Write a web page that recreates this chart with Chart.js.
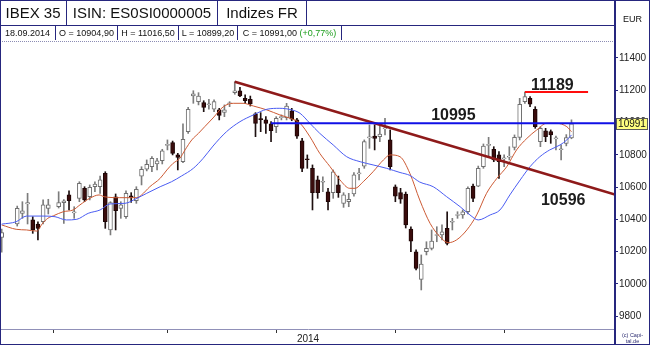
<!DOCTYPE html>
<html>
<head>
<meta charset="utf-8">
<title>IBEX 35</title>
<script src="https://cdn.jsdelivr.net/npm/chart.js@4.4.1/dist/chart.umd.min.js"></script>
<style>
  html, body { margin: 0; padding: 0; background: #fff; }
  #frame { position: relative; width: 650px; height: 345px; overflow: hidden; background: #fff;
           font-family: "Liberation Sans", Arial, sans-serif; color: #111; }
  #chart { position: absolute; left: 0; top: 0; }
  .cell { position: absolute; box-sizing: border-box; white-space: nowrap; text-align: center;
          border-right: 1px solid #26267e; }
  .r1 { top: 1px; height: 24px; line-height: 24px; font-size: 15px; }
  .r2 { top: 26px; height: 14px; line-height: 14px; font-size: 9px; }
  .rule { position: absolute; }
  .gain { color: #1c9e1c; }
  #border { position: absolute; left: 0; top: 0; width: 650px; height: 345px; box-sizing: border-box;
            border: 1px solid #26267e; pointer-events: none; }
</style>
</head>
<body>
<div id="frame">
  <canvas id="chart" width="650" height="345"></canvas>
  <div class="cell r1" style="left:0;width:67px">IBEX 35</div>
  <div class="cell r1" style="left:67px;width:151px">ISIN: ES0SI0000005</div>
  <div class="cell r1" style="left:218px;width:89px">Indizes FR</div>
  <div class="rule" style="left:0;top:25px;width:615px;height:1px;background:#26267e"></div>
  <div class="cell r2" id="hDate" style="left:0;width:56px"></div>
  <div class="cell r2" id="hOpen" style="left:56px;width:62px"></div>
  <div class="cell r2" id="hHigh" style="left:118px;width:61px"></div>
  <div class="cell r2" id="hLow" style="left:179px;width:59px"></div>
  <div class="cell r2" id="hClose" style="left:238px;width:104px"></div>
  <div class="rule" style="left:0;top:41px;width:615px;height:0;border-top:1px dotted #8c8cb4"></div>
  <div class="rule" style="left:614px;top:0;width:2px;height:345px;background:#26267e"></div>
  <div class="rule" style="left:616px;top:14px;width:33px;text-align:center;font-size:9px;line-height:11px">EUR</div>
  <div class="rule" style="left:616px;top:332px;width:33px;text-align:center;font-size:5.5px;line-height:6px;color:#2a2a70">(c) Capi-<br>tal.de</div>
  <div id="border"></div>
</div>
<script>
// Daily IBEX 35 candles, one slot per weekday (index 0 = 17.04.2014, last = 18.09.2014).
// Exchange holidays (Good Friday, Easter Monday, 1 May) stay empty.
const lastDate = '18.09.2014';

const open = [
  10288, null, null, 10371, 10437, 10495, 10396, 10371, 10385, 10468,
  null, 10478, 10503, 10551, 10440, 10530, 10592, 10540, 10602, 10602,
  10685, 10334, 10540, 10468, 10416, 10545, 10515, 10668, 10710, 10726,
  10743, 10763, 10858, 10875, 10799, 10757, 10943, 11164, 11129, 11123,
  11110, 11082, 11078, 11063, 11116, 11185, 11197, 11150, 11144, 11053,
  11024, 11016, 10991, 10974, 11030, 11030, 11073, 11016, 10887, 10775,
  10716, 10644, 10630, 10571, 10565, 10613, 10499, 10509, 10557, 10682,
  10730, 10905, 10916, 10912, 10961, 10892, 10602, 10565, 10557, 10340,
  10199, 10028, 10199, 10220, 10300, 10303, 10344, 10382, 10424, 10427,
  10447, 10606, 10606, 10726, 10858, 10834, 10799, 10775, 10785, 10846,
  10908, 11129, 11150, 11082, 10881, 10949, 10943, 10899, 10831, 10870, 10904.90
];
const high = [
  10340, null, null, 10482, 10509, 10561, 10416, 10385, 10520, 10524,
  null, 10571, 10522, 10577, 10478, 10633, 10602, 10613, 10633, 10668,
  10695, 10509, 10557, 10509, 10577, 10565, 10602, 10726, 10768, 10788,
  10778, 10834, 10892, 10885, 10809, 10991, 11094, 11197, 11185, 11135,
  11144, 11140, 11088, 11109, 11129, 11253, 11218, 11171, 11164, 11061,
  11061, 11036, 11005, 11036, 11047, 11119, 11088, 11026, 10902, 10799,
  10737, 10668, 10664, 10592, 10706, 10668, 10565, 10561, 10689, 10716,
  10892, 10985, 10985, 10978, 11026, 10954, 10613, 10592, 10569, 10354,
  10210, 10179, 10261, 10334, 10354, 10365, 10447, 10406, 10447, 10458,
  10602, 10619, 10730, 10867, 10908, 10850, 10819, 10799, 10850, 10923,
  11150, 11189, 11160, 11098, 10974, 10964, 10954, 10916, 10861, 10925, 11016.50
];
const low = [
  10197, null, null, 10358, 10406, 10371, 10313, 10272, 10371, 10433,
  null, 10470, 10375, 10458, 10406, 10509, 10509, 10520, 10571, 10561,
  10344, 10303, 10334, 10406, 10406, 10505, 10499, 10613, 10700, 10695,
  10706, 10743, 10830, 10799, 10706, 10751, 10933, 11119, 11109, 11067,
  11082, 11067, 11016, 11036, 11098, 11175, 11160, 11119, 11102, 10912,
  10943, 10933, 10881, 10937, 11016, 11016, 11011, 10902, 10695, 10716,
  10458, 10530, 10571, 10458, 10530, 10536, 10474, 10478, 10544, 10644,
  10716, 10840, 10830, 10881, 10923, 10706, 10509, 10499, 10346, 10199,
  10086, 9962, 10179, 10210, 10261, 10272, 10241, 10334, 10406, 10406,
  10433, 10509, 10602, 10716, 10788, 10757, 10654, 10726, 10768, 10830,
  10892, 11119, 11098, 10964, 10850, 10881, 10871, 10830, 10768, 10855, 10899.20
];
const close = [
  10317, null, null, 10468, 10453, 10503, 10334, 10344, 10489, 10489,
  null, 10503, 10515, 10515, 10446, 10623, 10520, 10598, 10619, 10644,
  10385, 10503, 10453, 10489, 10561, 10535, 10586, 10710, 10741, 10778,
  10763, 10825, 10864, 10809, 10784, 10896, 11082, 11177, 11164, 11094,
  11116, 11129, 11044, 11078, 11122, 11197, 11164, 11135, 11115, 10995,
  11018, 10995, 10949, 11026, 11036, 11102, 11020, 10916, 10716, 10769,
  10565, 10565, 10636, 10509, 10695, 10565, 10551, 10524, 10675, 10688,
  10881, 10911, 10902, 10929, 10967, 10726, 10544, 10524, 10365, 10265,
  10096, 10123, 10220, 10265, 10306, 10323, 10251, 10388, 10430, 10447,
  10592, 10530, 10716, 10854, 10864, 10768, 10757, 10781, 10791, 10908,
  11113, 11160, 11113, 10974, 10964, 10912, 10923, 10905, 10837, 10907, 10991.00
];

// Moving averages (fast = red, slow = blue), sampled at slot positions
const maFastAt  = [0, 2.8, 4.8, 6.8, 7.8, 8.9, 10, 11.9, 13.8, 15.1, 17, 18.8, 19.8, 22.8, 26.1, 27, 28.6, 30.6, 31.9, 33.1,
                   34.4, 35.4, 36.7, 38, 39.2, 40.8, 42.8, 44.7, 46.6, 48.6, 51.2, 53.7, 55.7, 57.6, 59.5, 61.4, 63.4, 65.3, 67.2, 68.2,
                   69.8, 71.7, 73.7, 75, 76.9, 78.8, 80.7, 82.7, 84.6, 86.2, 87.8, 89.8, 91.7, 93.6, 95.6, 97.5, 99.4, 101.4, 103.3, 105.2,
                   107.1, 109.1, 110];
const maFastVal = [10365, 10338, 10334, 10327, 10371, 10406, 10422, 10447, 10458, 10489, 10530, 10551, 10540, 10534, 10534, 10551, 10602, 10654, 10706, 10747,
                   10778, 10830, 10892, 10933, 10974, 11028, 11098, 11119, 11119, 11102, 11078, 11047, 11026, 10995, 10912, 10809, 10726, 10644, 10592, 10592,
                   10633, 10695, 10768, 10799, 10788, 10685, 10520, 10375, 10292, 10255, 10272, 10334, 10427, 10561, 10654, 10726, 10830, 10902, 10954, 10995,
                   10995, 10974, 10943];
const maSlowAt  = [0, 2.8, 4.8, 8, 10.3, 12.5, 14.5, 16.7, 19, 20.9, 23.8, 26.1, 28, 30.6, 32.8, 34.7, 37, 38.9, 40.8, 43.4,
                   46, 48.6, 51.2, 53.7, 56, 57.6, 59.5, 61.4, 64, 66.6, 69.2, 71.7, 74.3, 76.9, 78.8, 80.7, 83.3, 85.9, 88.5, 90.4,
                   92, 94.3, 96.2, 98.1, 100.1, 102, 103.9, 105.8, 107.8, 109.1, 110];
const maSlowVal = [10370, 10385, 10420, 10420, 10416, 10396, 10400, 10437, 10458, 10495, 10499, 10530, 10561, 10602, 10633, 10668, 10716, 10778, 10854, 10943,
                   11005, 11047, 11082, 11088, 11078, 11057, 10995, 10933, 10861, 10788, 10757, 10737, 10716, 10690, 10672, 10631, 10602, 10540, 10478, 10427,
                   10396, 10427, 10458, 10551, 10644, 10726, 10788, 10830, 10861, 10892, 10923];

// Drawn levels
const resistance = 10995;           // horizontal support/resistance
const resistanceFrom = 52;
const septemberHigh = 11189;        // high of early September
const septemberHighSpan = [101, 113.2];
const trendAt  = [45, 114, 118.4];  // falling trend line from the June top
const trendVal = [11253, 10596, 10554];
const trendMark = 10596;

// Axes
const yTicks = [9800, 10000, 10200, 10400, 10600, 10800, 11000, 11200, 11400];
const monthStarts = [10, 32, 53, 76, 97];
const yearLabel = '2014';
const xRange = [-0.13, 118.4];
const yRange = [9720, 11499];
const yearAt = (xRange[0] + xRange[1]) / 2;

const last = close.length - 1;
const lastClose = close[last];

// Header line with the last session
const fmt = v => v.toFixed(2).replace('.', ',');
const pct = (close[last] / close[last - 1] - 1) * 100;
document.getElementById('hDate').textContent = lastDate;
document.getElementById('hOpen').textContent = 'O = ' + fmt(open[last]);
document.getElementById('hHigh').textContent = 'H = ' + fmt(high[last]);
document.getElementById('hLow').textContent = 'L = ' + fmt(low[last]);
document.getElementById('hClose').innerHTML = 'C = ' + fmt(close[last]) +
  ' <span class="gain">(' + (pct >= 0 ? '+' : '') + fmt(pct) + '%)</span>';

// Candle datasets
const slots = open.map((_, i) => i).filter(i => open[i] !== null);
const rising = slots.map(i => close[i] >= open[i]);
const wicks  = slots.map(i => ({ x: i, y: [low[i], high[i]] }));
const bodies = slots.map(i => ({ x: i, y: [open[i], close[i]] }));

const pts = (xs, ys) => xs.map((x, k) => ({ x, y: ys[k] }));

const FONT = '"Liberation Sans", Arial, sans-serif';
Chart.defaults.font.family = FONT;

const overlay = {
  id: 'overlay',
  afterDatasetsDraw(chart) {
    const { ctx, scales: { x, y } } = chart;
    const tags = [
      { value: resistance, at: 87.2, dy: -8 },
      { value: septemberHigh, at: 106.3, dy: -6 },
      { value: trendMark, at: 108.4, dy: 13 }
    ];
    ctx.save();
    ctx.font = 'bold 16px ' + FONT;
    ctx.fillStyle = '#1c1c1c';
    ctx.textAlign = 'center';
    ctx.textBaseline = 'middle';
    tags.forEach(t => ctx.fillText(String(t.value), x.getPixelForValue(t.at), y.getPixelForValue(t.value) + t.dy));
    ctx.restore();
  },
  afterDraw(chart) {
    const { ctx, scales: { y } } = chart;
    const py = Math.round(y.getPixelForValue(lastClose));
    ctx.save();
    ctx.fillStyle = '#ffff80';
    ctx.fillRect(616, py - 6, 32, 12);
    ctx.strokeStyle = '#5a5a5a';
    ctx.lineWidth = 1;
    ctx.strokeRect(616.5, py - 5.5, 31, 11);
    ctx.fillStyle = '#111';
    ctx.font = '10px ' + FONT;
    ctx.textAlign = 'center';
    ctx.textBaseline = 'middle';
    ctx.fillText(String(Math.round(lastClose)), 632, py + 0.5);
    ctx.restore();
  }
};

new Chart(document.getElementById('chart'), {
  type: 'bar',
  data: {
    datasets: [
      {
        label: 'wick', data: wicks, order: 6, grouped: false, barThickness: 1,
        backgroundColor: rising.map(r => r ? '#7c7c7c' : '#1e1010'),
        borderWidth: 0
      },
      {
        label: 'body', data: bodies, order: 5, grouped: false, barThickness: 4,
        backgroundColor: rising.map(r => r ? '#ffffff' : '#3a0c0c'),
        borderColor: rising.map(r => r ? '#707070' : '#1e0606'),
        borderWidth: 1, borderSkipped: false
      },
      {
        type: 'line', label: 'MA fast', data: pts(maFastAt, maFastVal), order: 4,
        borderColor: '#cc5a34', borderWidth: 1, pointRadius: 0, cubicInterpolationMode: 'monotone'
      },
      {
        type: 'line', label: 'MA slow', data: pts(maSlowAt, maSlowVal), order: 3,
        borderColor: '#4a5cf2', borderWidth: 1, pointRadius: 0, cubicInterpolationMode: 'monotone'
      },
      {
        type: 'line', label: 'trend', data: pts(trendAt, trendVal), order: 2,
        borderColor: '#8e1a1a', borderWidth: 2.5, pointRadius: 0, tension: 0
      },
      {
        type: 'line', label: 'resistance', data: [{ x: resistanceFrom, y: resistance }, { x: xRange[1], y: resistance }], order: 1,
        borderColor: '#1010e6', borderWidth: 2, pointRadius: 0
      },
      {
        type: 'line', label: 'September high', data: septemberHighSpan.map(x => ({ x, y: septemberHigh })), order: 1,
        borderColor: '#ff0d0d', backgroundColor: '#ff0d0d', borderWidth: 2, pointRadius: 0
      }
    ]
  },
  options: {
    responsive: false,
    animation: false,
    events: [],
    layout: { padding: { top: 42, left: 1, right: 0, bottom: 0 } },
    plugins: { legend: { display: false }, tooltip: { enabled: false } },
    scales: {
      x: {
        type: 'linear', min: xRange[0], max: xRange[1], offset: false,
        afterBuildTicks: s => { s.ticks = monthStarts.concat([yearAt]).sort((a, b) => a - b).map(v => ({ value: v })); },
        afterFit: s => { s.height = 16; },
        ticks: {
          autoSkip: false, maxRotation: 0, padding: 0, color: '#222', font: { size: 10 },
          callback: v => (v === yearAt ? yearLabel : '')
        },
        grid: {
          offset: false, drawOnChartArea: false, tickLength: 4, tickWidth: 1,
          tickColor: c => (c.tick && c.tick.value === yearAt ? 'rgba(0,0,0,0)' : '#333')
        },
        border: { display: true, color: '#9090b8', dash: [1, 1], width: 1 }
      },
      y: {
        type: 'linear', position: 'right', min: yRange[0], max: yRange[1],
        afterBuildTicks: s => { s.ticks = yTicks.map(v => ({ value: v })); },
        afterFit: s => { s.width = 35; },
        ticks: { padding: 1, color: '#222', font: { size: 10 }, callback: v => String(v) },
        grid: { drawOnChartArea: false, tickLength: 3, tickColor: '#26267e' },
        border: { display: false }
      }
    }
  },
  plugins: [overlay]
});
</script>
</body>
</html>
